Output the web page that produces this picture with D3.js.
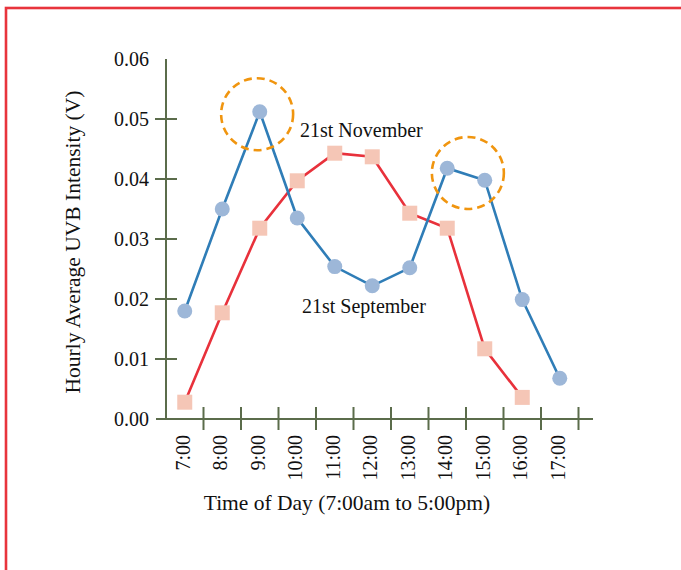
<!DOCTYPE html>
<html>
<head>
<meta charset="utf-8">
<script src="https://cdn.jsdelivr.net/npm/d3@7"></script>
<style>
  html, body { margin: 0; padding: 0; background: #fff; }
  svg { display: block; }
  text { font-family: "Liberation Serif", "Times New Roman", serif; fill: #111; }
</style>
</head>
<body>
<svg id="chart" width="681" height="570"></svg>
<script>
// ---- data ----
const hours = ["7:00","8:00","9:00","10:00","11:00","12:00","13:00","14:00","15:00","16:00","17:00"];
const september = [0.0180, 0.0350, 0.0512, 0.0335, 0.0254, 0.0222, 0.0252, 0.0418, 0.0398, 0.0199, 0.0068];
const novemberHours = ["7:00","8:00","9:00","10:00","11:00","12:00","13:00","14:00","15:00","16:00"];
const november = [0.0028, 0.0177, 0.0318, 0.0397, 0.0443, 0.0437, 0.0343, 0.0318, 0.0117, 0.0036];
const yTicks = [0.00, 0.01, 0.02, 0.03, 0.04, 0.05, 0.06];
const yTickMarks = [0.01, 0.02, 0.03, 0.04, 0.05];
const seriesLabels = ["21st November", "21st September"];
// highlight circles: [fractional hour, value]
const highlights = [[8.93, 0.0508], [14.55, 0.0410]];

const svg = d3.select("#chart");

// outer red frame
svg.append("rect")
  .attr("x", 6).attr("y", 8).attr("width", 720).attr("height", 620)
  .attr("fill", "none").attr("stroke", "#e8343c").attr("stroke-width", 2.6);

const x = d3.scaleBand().domain(hours).range([166, 578.5]).padding(0);
const bw = x.bandwidth();
const cx = h => x(h) + bw / 2;
const xh = d3.scaleLinear().domain([7, 8]).range([cx("7:00"), cx("8:00")]);
const y = d3.scaleLinear().domain([0, 0.06]).range([419, 59]);

const axisColor = "#5b6c4b";

// axes
svg.append("line")
  .attr("x1", 166).attr("x2", 166).attr("y1", y(0.06)).attr("y2", y(0))
  .attr("stroke", axisColor).attr("stroke-width", 2);
svg.append("line")
  .attr("x1", 156).attr("x2", 593).attr("y1", y(0)).attr("y2", y(0))
  .attr("stroke", axisColor).attr("stroke-width", 2);

// y tick marks
svg.selectAll(".ytm").data(yTickMarks).enter().append("line")
  .attr("x1", 155).attr("x2", 177)
  .attr("y1", d => y(d)).attr("y2", d => y(d))
  .attr("stroke", axisColor).attr("stroke-width", 2);

// y tick labels
svg.selectAll(".ytl").data(yTicks).enter().append("text")
  .attr("x", 149).attr("y", d => y(d)).attr("dy", "0.35em")
  .attr("text-anchor", "end").style("font-size", "20px")
  .text(d => d3.format(".2f")(d));

// x tick marks at band boundaries
svg.selectAll(".xtm").data(hours).enter().append("line")
  .attr("x1", d => x(d) + bw).attr("x2", d => x(d) + bw)
  .attr("y1", 407).attr("y2", 430)
  .attr("stroke", axisColor).attr("stroke-width", 2);

// x tick labels (rotated)
svg.selectAll(".xtl").data(hours).enter().append("text")
  .attr("transform", d => `translate(${cx(d) - 1.8},435) rotate(-90)`)
  .attr("dy", "0.35em")
  .attr("text-anchor", "end").style("font-size", "20px")
  .text(d => d);

// axis titles
svg.append("text")
  .attr("transform", "translate(80,242) rotate(-90)")
  .attr("text-anchor", "middle").style("font-size", "21.5px")
  .text("Hourly Average UVB Intensity (V)");
svg.append("text")
  .attr("x", 347).attr("y", 510)
  .attr("text-anchor", "middle").style("font-size", "21.5px")
  .text("Time of Day (7:00am to 5:00pm)");

// lines
const sepData = hours.map((h, i) => ({h, v: september[i]}));
const novData = novemberHours.map((h, i) => ({h, v: november[i]}));
const line = d3.line().x(d => cx(d.h)).y(d => y(d.v));

svg.append("path").datum(novData)
  .attr("d", line).attr("fill", "none")
  .attr("stroke", "#e8313b").attr("stroke-width", 2.6);
svg.append("path").datum(sepData)
  .attr("d", line).attr("fill", "none")
  .attr("stroke", "#2f7db7").attr("stroke-width", 2.6);

// markers
const sq = 15;
svg.selectAll(".sq").data(novData).enter().append("rect")
  .attr("x", d => cx(d.h) - sq / 2).attr("y", d => y(d.v) - sq / 2)
  .attr("width", sq).attr("height", sq)
  .attr("fill", "#f5c6b6");
svg.selectAll(".ci").data(sepData).enter().append("circle")
  .attr("cx", d => cx(d.h)).attr("cy", d => y(d.v)).attr("r", 7.5)
  .attr("fill", "#9db7d8");

// highlight circles
svg.selectAll(".hl").data(highlights).enter().append("circle")
  .attr("cx", d => xh(d[0])).attr("cy", d => y(d[1])).attr("r", 36)
  .attr("fill", "none").attr("stroke", "#f0950f")
  .attr("stroke-width", 2.6).attr("stroke-dasharray", "8,5");

// series labels
svg.append("text").attr("x", 300).attr("y", 137)
  .style("font-size", "20px").text(seriesLabels[0]);
svg.append("text").attr("x", 302).attr("y", 313)
  .style("font-size", "20px").text(seriesLabels[1]);
</script>
</body>
</html>
